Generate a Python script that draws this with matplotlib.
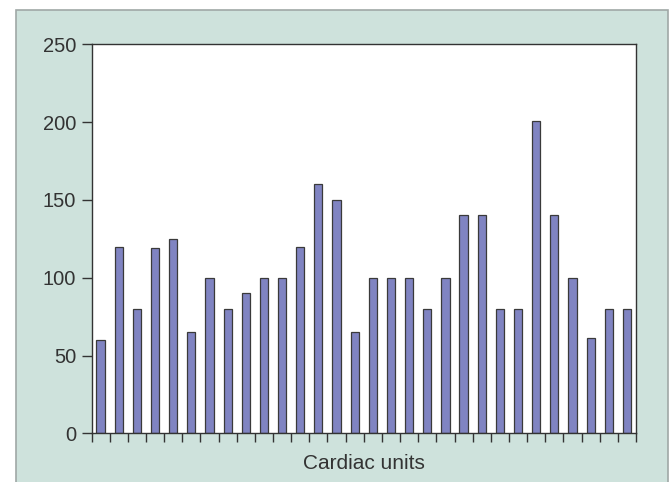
import matplotlib
matplotlib.use("Agg")
import matplotlib.pyplot as plt
from matplotlib.patches import Rectangle
import numpy as np

values = [60, 120, 80, 119, 125, 65, 100, 80, 90, 100, 100, 120, 160, 150, 65,
          100, 100, 100, 80, 100, 140, 140, 80, 80, 201, 140, 100, 61, 80, 80]
y_ticks = [0, 50, 100, 150, 200, 250]
x_label = "Cardiac units"

plt.rcParams['font.family'] = ['Liberation Sans', 'DejaVu Sans']

fig = plt.figure(figsize=(6.69, 4.82), dpi=100)
fig.patch.set_facecolor('white')
bg = Rectangle((16/669, -0.05), (668-16)/669, (482-10)/482 + 0.05,
               transform=fig.transFigure, facecolor='#cee2dc',
               edgecolor='#a0a8a6', linewidth=1.2, zorder=-10)
fig.patches.append(bg)

ax = fig.add_axes([91.5/669, (482-433.3)/482, (636-91.5)/669, (433.3-44.3)/482])
ax.set_zorder(5)
ax.set_facecolor('white')
n = len(values)
x = np.arange(n) + 0.5
ax.bar(x, values, width=0.45, color='#8084c2', edgecolor='#3a3a3a', linewidth=0.9, zorder=2)
ax.set_xlim(0, n)
ax.set_ylim(0, 250)
ax.set_yticks(y_ticks)
ax.set_xticks(np.arange(n + 1))
ax.set_xticklabels([])
for s in ax.spines.values():
    s.set_color('#333333')
    s.set_linewidth(1.0)
ax.tick_params(axis='y', direction='out', length=7, width=1.0, color='#333333',
               labelsize=14.5, labelcolor='#333333', pad=4)
ax.tick_params(axis='x', direction='out', length=6.5, width=1.0, color='#333333')
ax.set_xlabel(x_label, fontsize=15, color='#333333', labelpad=5)

fig.savefig('out.png', dpi=100)
